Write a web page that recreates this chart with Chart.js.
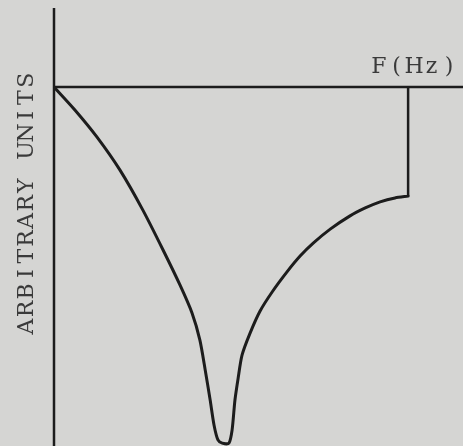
<!DOCTYPE html>
<html>
<head>
<meta charset="utf-8">
<title>Frequency response</title>
<script src="https://cdn.jsdelivr.net/npm/chart.js@4/dist/chart.umd.min.js"></script>
<style>
  html, body { margin: 0; padding: 0; background: #d5d5d3; }
  #wrap { width: 463px; height: 446px; }
</style>
</head>
<body>
<div id="wrap"><canvas id="myChart" width="463" height="446"></canvas></div>
<script>
// response curve (frequency, amplitude), arbitrary units
var freq = [0, 0.59, 1.21, 1.86, 2.51, 3.08, 3.56, 3.90, 4.12, 4.27, 4.41, 4.52, 4.63, 4.75, 4.94,
            5.03, 5.11, 5.20, 5.31, 5.54, 5.82, 6.16, 6.58, 6.95, 7.32, 7.80, 8.36, 8.79, 9.21, 9.63, 10.0];
var amp  = [0, -0.64, -1.39, -2.31, -3.43, -4.54, -5.52, -6.30, -7.05, -7.88, -8.72, -9.42, -9.83, -9.92, -9.92,
            -9.55, -8.72, -8.11, -7.47, -6.85, -6.24, -5.71, -5.15, -4.71, -4.35, -3.96, -3.59, -3.37, -3.20, -3.09, -3.04];

// cutoff edge back up to the axis
var cutFreq = [10.0, 10.0];
var cutAmp  = [-3.04, 0];

var xLabel = 'F(Hz)';
var yLabel = 'ARBITRARY UNITS';

function toPoints(xs, ys) {
    var pts = [];
    xs.forEach(function(x, i) { pts.push({x: x, y: ys[i]}); });
    return pts;
}

var inkColor = '#1c1c1c';
var textColor = '#3a3a3a';

// typewriter style: one glyph per fixed cell
function drawSpaced(ctx, text, advance) {
    for (var i = 0; i < text.length; i++) {
        ctx.fillText(text[i], i * advance, 0);
    }
}

// background, the two zero axes and the axis captions
var figurePlugin = {
    id: 'figure',
    beforeDraw: function(chart) {
        var ctx = chart.ctx;
        ctx.save();
        ctx.fillStyle = '#d5d5d3';
        ctx.fillRect(0, 0, chart.width, chart.height);
        ctx.restore();
    },
    beforeDatasetsDraw: function(chart) {
        var ctx = chart.ctx;
        var xs = chart.scales.x, ys = chart.scales.y;
        var x0 = xs.getPixelForValue(0), y0 = ys.getPixelForValue(0);
        ctx.save();
        ctx.strokeStyle = inkColor;
        ctx.lineWidth = 2.5;
        ctx.beginPath();
        ctx.moveTo(x0, chart.chartArea.top);
        ctx.lineTo(x0, chart.chartArea.bottom);
        ctx.moveTo(x0, y0);
        ctx.lineTo(chart.chartArea.right, y0);
        ctx.stroke();
        ctx.restore();
    },
    afterDraw: function(chart) {
        var ctx = chart.ctx;
        ctx.save();
        ctx.fillStyle = textColor;
        ctx.font = '22px "DejaVu Serif", serif';
        ctx.textBaseline = 'alphabetic';
        ctx.textAlign = 'center';

        ctx.save();
        ctx.translate(379, 73);
        drawSpaced(ctx, xLabel, 17.5);
        ctx.restore();

        ctx.translate(33, 326.5);
        ctx.rotate(-Math.PI / 2);
        drawSpaced(ctx, yLabel, 17.6);
        ctx.restore();
    }
};

var ctx = document.getElementById('myChart');
var myChart = new Chart(ctx, {
    type: 'scatter',
    data: {
        datasets: [{
            label: 'response',
            data: toPoints(freq, amp),
            showLine: true,
            borderColor: inkColor,
            borderWidth: 3,
            pointRadius: 0,
            tension: 0.25,
            borderJoinStyle: 'round',
            borderCapStyle: 'round'
        }, {
            label: 'cutoff',
            data: toPoints(cutFreq, cutAmp),
            showLine: true,
            borderColor: inkColor,
            borderWidth: 2.5,
            pointRadius: 0,
            tension: 0
        }]
    },
    options: {
        responsive: false,
        animation: false,
        devicePixelRatio: 1,
        layout: { padding: { left: 54, top: 8, right: 0, bottom: 0 } },
        plugins: {
            legend: { display: false },
            tooltip: { enabled: false }
        },
        scales: {
            x: { type: 'linear', min: 0, max: 11.55, display: false },
            y: { type: 'linear', min: -10, max: 2.2, display: false }
        }
    },
    plugins: [figurePlugin]
});
</script>
</body>
</html>
